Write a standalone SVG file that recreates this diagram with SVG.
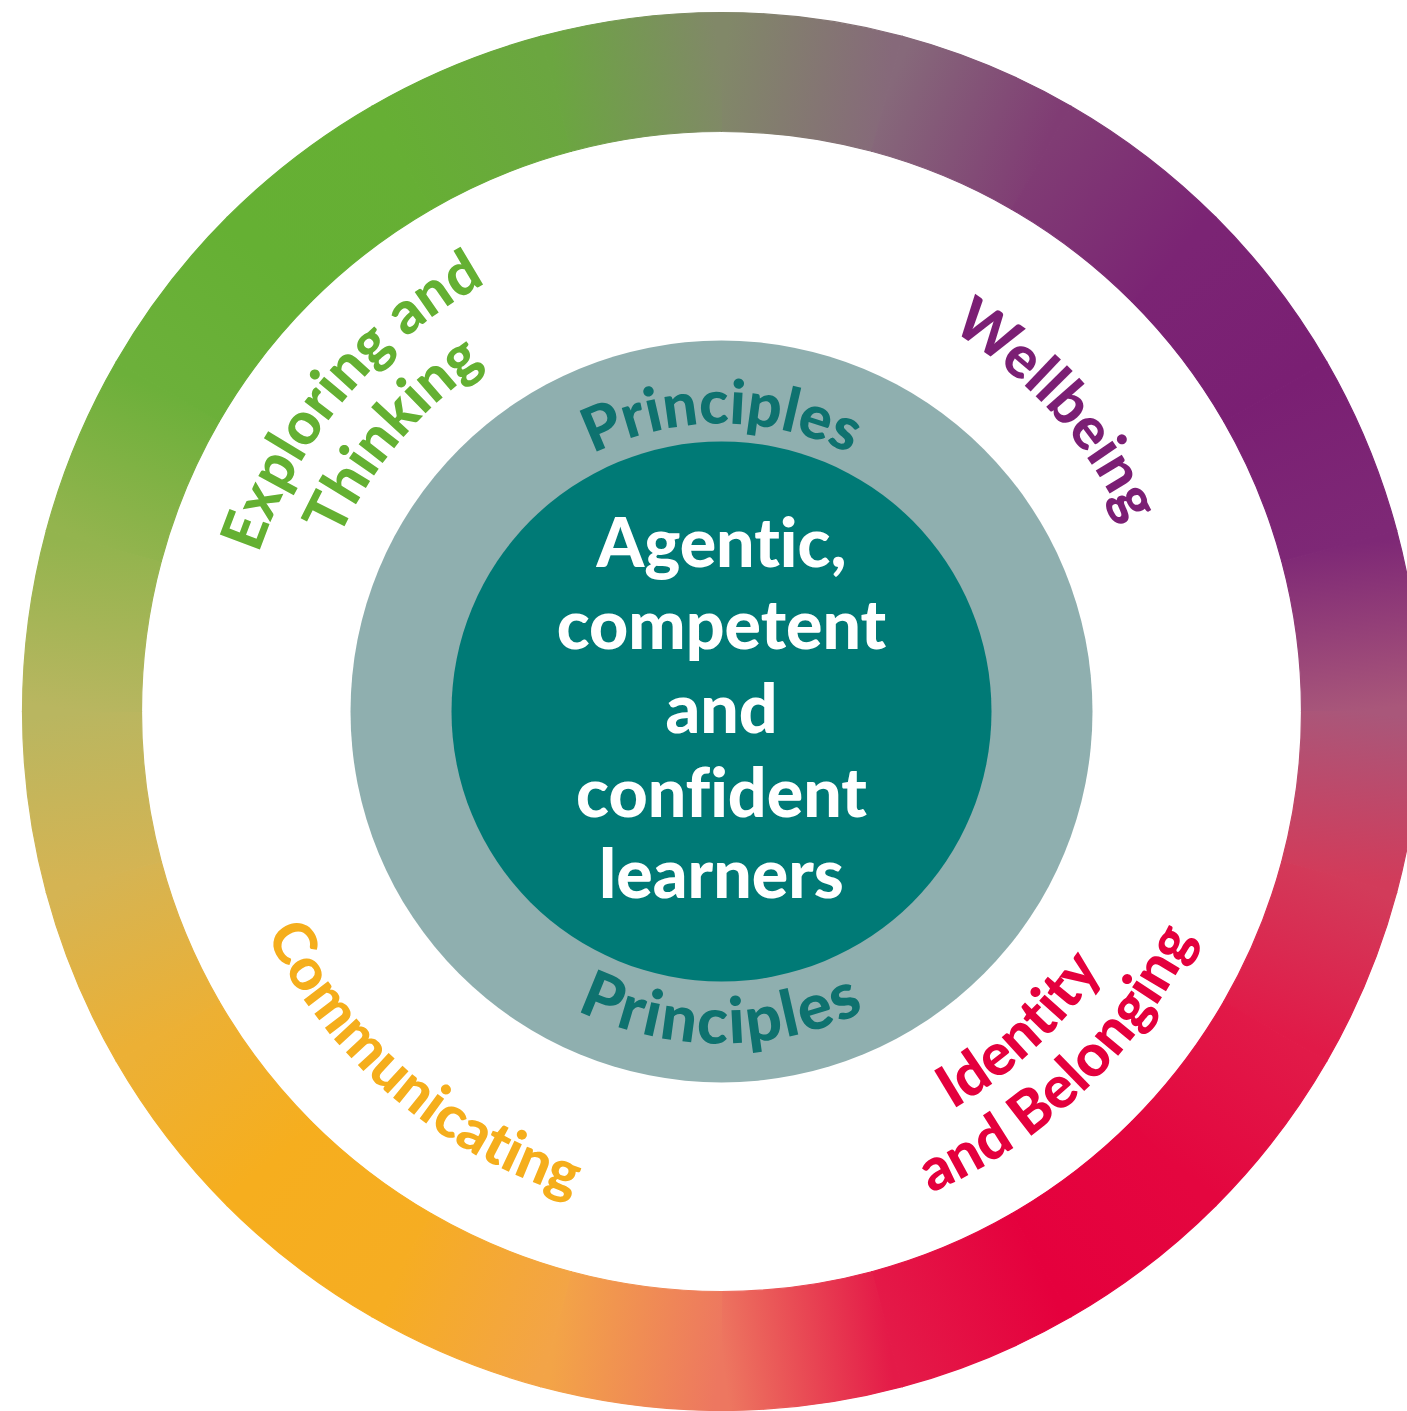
<svg xmlns="http://www.w3.org/2000/svg" width="1407" height="1411" viewBox="0 0 1407 1411">
<style>
.seg{stroke-width:1.2}
text{font-variant-ligatures:none;font-feature-settings:"liga" 0,"clig" 0}
.lbl{font-family:Lato,"Liberation Sans",sans-serif;font-weight:900;font-size:59px}
.pr{font-family:Lato,"Liberation Sans",sans-serif;font-weight:900;font-size:61px;fill:#0e726f}
.ctr{font-family:Lato,"Liberation Sans",sans-serif;font-weight:900;font-size:68px;fill:#ffffff;text-anchor:middle}
</style>
<defs>
<linearGradient id="g0" gradientUnits="userSpaceOnUse" x1="721.5" y1="71.5" x2="887.14" y2="93.31"><stop offset="0" stop-color="#818868"/><stop offset="1" stop-color="#86697a"/></linearGradient>
<linearGradient id="g1" gradientUnits="userSpaceOnUse" x1="887.14" y1="93.31" x2="1041.5" y2="157.24"><stop offset="0" stop-color="#86697a"/><stop offset="1" stop-color="#803c74"/></linearGradient>
<linearGradient id="g2" gradientUnits="userSpaceOnUse" x1="1041.5" y1="157.24" x2="1174.05" y2="258.95"><stop offset="0" stop-color="#803c74"/><stop offset="1" stop-color="#7b2474"/></linearGradient>
<linearGradient id="g3" gradientUnits="userSpaceOnUse" x1="1174.05" y1="258.95" x2="1275.76" y2="391.5"><stop offset="0" stop-color="#7b2474"/><stop offset="1" stop-color="#7a1f73"/></linearGradient>
<linearGradient id="g4" gradientUnits="userSpaceOnUse" x1="1275.76" y1="391.5" x2="1339.69" y2="545.86"><stop offset="0" stop-color="#7a1f73"/><stop offset="1" stop-color="#7e2876"/></linearGradient>
<linearGradient id="g5" gradientUnits="userSpaceOnUse" x1="1339.69" y1="545.86" x2="1361.5" y2="711.5"><stop offset="0" stop-color="#7e2876"/><stop offset="1" stop-color="#a9577a"/></linearGradient>
<linearGradient id="g6" gradientUnits="userSpaceOnUse" x1="1361.5" y1="711.5" x2="1339.69" y2="877.14"><stop offset="0" stop-color="#a9577a"/><stop offset="1" stop-color="#d23b5a"/></linearGradient>
<linearGradient id="g7" gradientUnits="userSpaceOnUse" x1="1339.69" y1="877.14" x2="1275.76" y2="1031.5"><stop offset="0" stop-color="#d23b5a"/><stop offset="1" stop-color="#e11a48"/></linearGradient>
<linearGradient id="g8" gradientUnits="userSpaceOnUse" x1="1275.76" y1="1031.5" x2="1174.05" y2="1164.05"><stop offset="0" stop-color="#e11a48"/><stop offset="1" stop-color="#e4063f"/></linearGradient>
<linearGradient id="g9" gradientUnits="userSpaceOnUse" x1="1174.05" y1="1164.05" x2="1041.5" y2="1265.76"><stop offset="0" stop-color="#e4063f"/><stop offset="1" stop-color="#e5003d"/></linearGradient>
<linearGradient id="g10" gradientUnits="userSpaceOnUse" x1="1041.5" y1="1265.76" x2="887.14" y2="1329.69"><stop offset="0" stop-color="#e5003d"/><stop offset="1" stop-color="#e41a48"/></linearGradient>
<linearGradient id="g11" gradientUnits="userSpaceOnUse" x1="887.14" y1="1329.69" x2="721.5" y2="1351.5"><stop offset="0" stop-color="#e41a48"/><stop offset="1" stop-color="#ed7760"/></linearGradient>
<linearGradient id="g12" gradientUnits="userSpaceOnUse" x1="721.5" y1="1351.5" x2="555.86" y2="1329.69"><stop offset="0" stop-color="#ed7760"/><stop offset="1" stop-color="#f3a447"/></linearGradient>
<linearGradient id="g13" gradientUnits="userSpaceOnUse" x1="555.86" y1="1329.69" x2="401.5" y2="1265.76"><stop offset="0" stop-color="#f3a447"/><stop offset="1" stop-color="#f6ad22"/></linearGradient>
<linearGradient id="g14" gradientUnits="userSpaceOnUse" x1="401.5" y1="1265.76" x2="268.95" y2="1164.05"><stop offset="0" stop-color="#f6ad22"/><stop offset="1" stop-color="#f6ae1e"/></linearGradient>
<linearGradient id="g15" gradientUnits="userSpaceOnUse" x1="268.95" y1="1164.05" x2="167.24" y2="1031.5"><stop offset="0" stop-color="#f6ae1e"/><stop offset="1" stop-color="#ecb035"/></linearGradient>
<linearGradient id="g16" gradientUnits="userSpaceOnUse" x1="167.24" y1="1031.5" x2="103.31" y2="877.14"><stop offset="0" stop-color="#ecb035"/><stop offset="1" stop-color="#d5b453"/></linearGradient>
<linearGradient id="g17" gradientUnits="userSpaceOnUse" x1="103.31" y1="877.14" x2="81.5" y2="711.5"><stop offset="0" stop-color="#d5b453"/><stop offset="1" stop-color="#b9b660"/></linearGradient>
<linearGradient id="g18" gradientUnits="userSpaceOnUse" x1="81.5" y1="711.5" x2="103.31" y2="545.86"><stop offset="0" stop-color="#b9b660"/><stop offset="1" stop-color="#93b44e"/></linearGradient>
<linearGradient id="g19" gradientUnits="userSpaceOnUse" x1="103.31" y1="545.86" x2="167.24" y2="391.5"><stop offset="0" stop-color="#93b44e"/><stop offset="1" stop-color="#6cb03a"/></linearGradient>
<linearGradient id="g20" gradientUnits="userSpaceOnUse" x1="167.24" y1="391.5" x2="268.95" y2="258.95"><stop offset="0" stop-color="#6cb03a"/><stop offset="1" stop-color="#65b033"/></linearGradient>
<linearGradient id="g21" gradientUnits="userSpaceOnUse" x1="268.95" y1="258.95" x2="401.5" y2="157.24"><stop offset="0" stop-color="#65b033"/><stop offset="1" stop-color="#66af34"/></linearGradient>
<linearGradient id="g22" gradientUnits="userSpaceOnUse" x1="401.5" y1="157.24" x2="555.86" y2="93.31"><stop offset="0" stop-color="#66af34"/><stop offset="1" stop-color="#6ba640"/></linearGradient>
<linearGradient id="g23" gradientUnits="userSpaceOnUse" x1="555.86" y1="93.31" x2="721.5" y2="71.5"><stop offset="0" stop-color="#6ba640"/><stop offset="1" stop-color="#818868"/></linearGradient>
<path id="pTop" d="M433.5,711.5 A288,288 0 0 1 1009.5,711.5"/>
<path id="pBot" d="M389.5,711.5 A332,332 0 0 0 1053.5,711.5"/>
<path id="pExp" d="M262,878.7 A489,489 0 0 1 806.4,229.9"/>
<path id="pThi" d="M326.8,855.1 A420,420 0 0 1 794.4,297.9"/>
<path id="pWel" d="M629,276.2 A445,445 0 0 1 1144.7,849"/>
<path id="pCom" d="M223,619.1 A507,507 0 0 0 890.7,1189.4"/>
<path id="pIde" d="M587,1151.4 A460,460 0 0 0 1169.7,608"/>
<path id="pBel" d="M576.8,1216.2 A525,525 0 0 0 1230.9,584.5"/>
</defs>
<rect width="1407" height="1411" fill="#ffffff"/>
<g id="outer-ring">
<path class="seg" fill="url(#g0)" stroke="url(#g0)" d="M721.5,12.5 A699,699 0 0 1 902.42,36.32 L871.62,151.26 A580,580 0 0 0 721.5,131.5Z"/>
<path class="seg" fill="url(#g1)" stroke="url(#g1)" d="M902.42,36.32 A699,699 0 0 1 1071,106.15 L1011.5,209.2 A580,580 0 0 0 871.62,151.26Z"/>
<path class="seg" fill="url(#g2)" stroke="url(#g2)" d="M1071,106.15 A699,699 0 0 1 1215.77,217.23 L1131.62,301.38 A580,580 0 0 0 1011.5,209.2Z"/>
<path class="seg" fill="url(#g3)" stroke="url(#g3)" d="M1215.77,217.23 A699,699 0 0 1 1326.85,362 L1223.8,421.5 A580,580 0 0 0 1131.62,301.38Z"/>
<path class="seg" fill="url(#g4)" stroke="url(#g4)" d="M1326.85,362 A699,699 0 0 1 1396.68,530.58 L1281.74,561.38 A580,580 0 0 0 1223.8,421.5Z"/>
<path class="seg" fill="url(#g5)" stroke="url(#g5)" d="M1396.68,530.58 A699,699 0 0 1 1420.5,711.5 L1301.5,711.5 A580,580 0 0 0 1281.74,561.38Z"/>
<path class="seg" fill="url(#g6)" stroke="url(#g6)" d="M1420.5,711.5 A699,699 0 0 1 1396.68,892.42 L1281.74,861.62 A580,580 0 0 0 1301.5,711.5Z"/>
<path class="seg" fill="url(#g7)" stroke="url(#g7)" d="M1396.68,892.42 A699,699 0 0 1 1326.85,1061 L1223.8,1001.5 A580,580 0 0 0 1281.74,861.62Z"/>
<path class="seg" fill="url(#g8)" stroke="url(#g8)" d="M1326.85,1061 A699,699 0 0 1 1215.77,1205.77 L1131.62,1121.62 A580,580 0 0 0 1223.8,1001.5Z"/>
<path class="seg" fill="url(#g9)" stroke="url(#g9)" d="M1215.77,1205.77 A699,699 0 0 1 1071,1316.85 L1011.5,1213.8 A580,580 0 0 0 1131.62,1121.62Z"/>
<path class="seg" fill="url(#g10)" stroke="url(#g10)" d="M1071,1316.85 A699,699 0 0 1 902.42,1386.68 L871.62,1271.74 A580,580 0 0 0 1011.5,1213.8Z"/>
<path class="seg" fill="url(#g11)" stroke="url(#g11)" d="M902.42,1386.68 A699,699 0 0 1 721.5,1410.5 L721.5,1291.5 A580,580 0 0 0 871.62,1271.74Z"/>
<path class="seg" fill="url(#g12)" stroke="url(#g12)" d="M721.5,1410.5 A699,699 0 0 1 540.58,1386.68 L571.38,1271.74 A580,580 0 0 0 721.5,1291.5Z"/>
<path class="seg" fill="url(#g13)" stroke="url(#g13)" d="M540.58,1386.68 A699,699 0 0 1 372,1316.85 L431.5,1213.8 A580,580 0 0 0 571.38,1271.74Z"/>
<path class="seg" fill="url(#g14)" stroke="url(#g14)" d="M372,1316.85 A699,699 0 0 1 227.23,1205.77 L311.38,1121.62 A580,580 0 0 0 431.5,1213.8Z"/>
<path class="seg" fill="url(#g15)" stroke="url(#g15)" d="M227.23,1205.77 A699,699 0 0 1 116.15,1061 L219.2,1001.5 A580,580 0 0 0 311.38,1121.62Z"/>
<path class="seg" fill="url(#g16)" stroke="url(#g16)" d="M116.15,1061 A699,699 0 0 1 46.32,892.42 L161.26,861.62 A580,580 0 0 0 219.2,1001.5Z"/>
<path class="seg" fill="url(#g17)" stroke="url(#g17)" d="M46.32,892.42 A699,699 0 0 1 22.5,711.5 L141.5,711.5 A580,580 0 0 0 161.26,861.62Z"/>
<path class="seg" fill="url(#g18)" stroke="url(#g18)" d="M22.5,711.5 A699,699 0 0 1 46.32,530.58 L161.26,561.38 A580,580 0 0 0 141.5,711.5Z"/>
<path class="seg" fill="url(#g19)" stroke="url(#g19)" d="M46.32,530.58 A699,699 0 0 1 116.15,362 L219.2,421.5 A580,580 0 0 0 161.26,561.38Z"/>
<path class="seg" fill="url(#g20)" stroke="url(#g20)" d="M116.15,362 A699,699 0 0 1 227.23,217.23 L311.38,301.38 A580,580 0 0 0 219.2,421.5Z"/>
<path class="seg" fill="url(#g21)" stroke="url(#g21)" d="M227.23,217.23 A699,699 0 0 1 372,106.15 L431.5,209.2 A580,580 0 0 0 311.38,301.38Z"/>
<path class="seg" fill="url(#g22)" stroke="url(#g22)" d="M372,106.15 A699,699 0 0 1 540.58,36.32 L571.38,151.26 A580,580 0 0 0 431.5,209.2Z"/>
<path class="seg" fill="url(#g23)" stroke="url(#g23)" d="M540.58,36.32 A699,699 0 0 1 721.5,12.5 L721.5,131.5 A580,580 0 0 0 571.38,151.26Z"/>
</g>
<g id="principles-ring">
<circle cx="721.5" cy="711.5" r="371" fill="#8fafaf"/>
<text class="pr"><textPath href="#pTop" startOffset="50%" text-anchor="middle">Principles</textPath></text>
<text class="pr" style="font-size:64px;letter-spacing:2px"><textPath href="#pBot" startOffset="50%" text-anchor="middle">Principles</textPath></text>
</g>
<g id="core">
<circle cx="721.5" cy="711.5" r="270" fill="#007a76"/>
<text class="ctr" x="721.5" y="567">Agentic,</text>
<text class="ctr" x="721.5" y="649">competent</text>
<text class="ctr" x="721.5" y="733">and</text>
<text class="ctr" x="721.5" y="817">confident</text>
<text class="ctr" x="721.5" y="898">learners</text>
</g>
<g id="label-exploring" class="lbl" fill="#64b032">
<text><textPath href="#pExp" startOffset="50%" text-anchor="middle">Exploring and</textPath></text>
<text><textPath href="#pThi" startOffset="50%" text-anchor="middle">Thinking</textPath></text>
</g>
<g id="label-wellbeing" class="lbl" fill="#7b1f74">
<text><textPath href="#pWel" startOffset="50%" text-anchor="middle">Wellbeing</textPath></text>
</g>
<g id="label-communicating" class="lbl" fill="#f5ae1c">
<text><textPath href="#pCom" startOffset="50%" text-anchor="middle">Communicating</textPath></text>
</g>
<g id="label-identity" class="lbl" fill="#e4003d">
<text><textPath href="#pIde" startOffset="50%" text-anchor="middle">Identity</textPath></text>
<text><textPath href="#pBel" startOffset="50%" text-anchor="middle">and Belonging</textPath></text>
</g>
</svg>
